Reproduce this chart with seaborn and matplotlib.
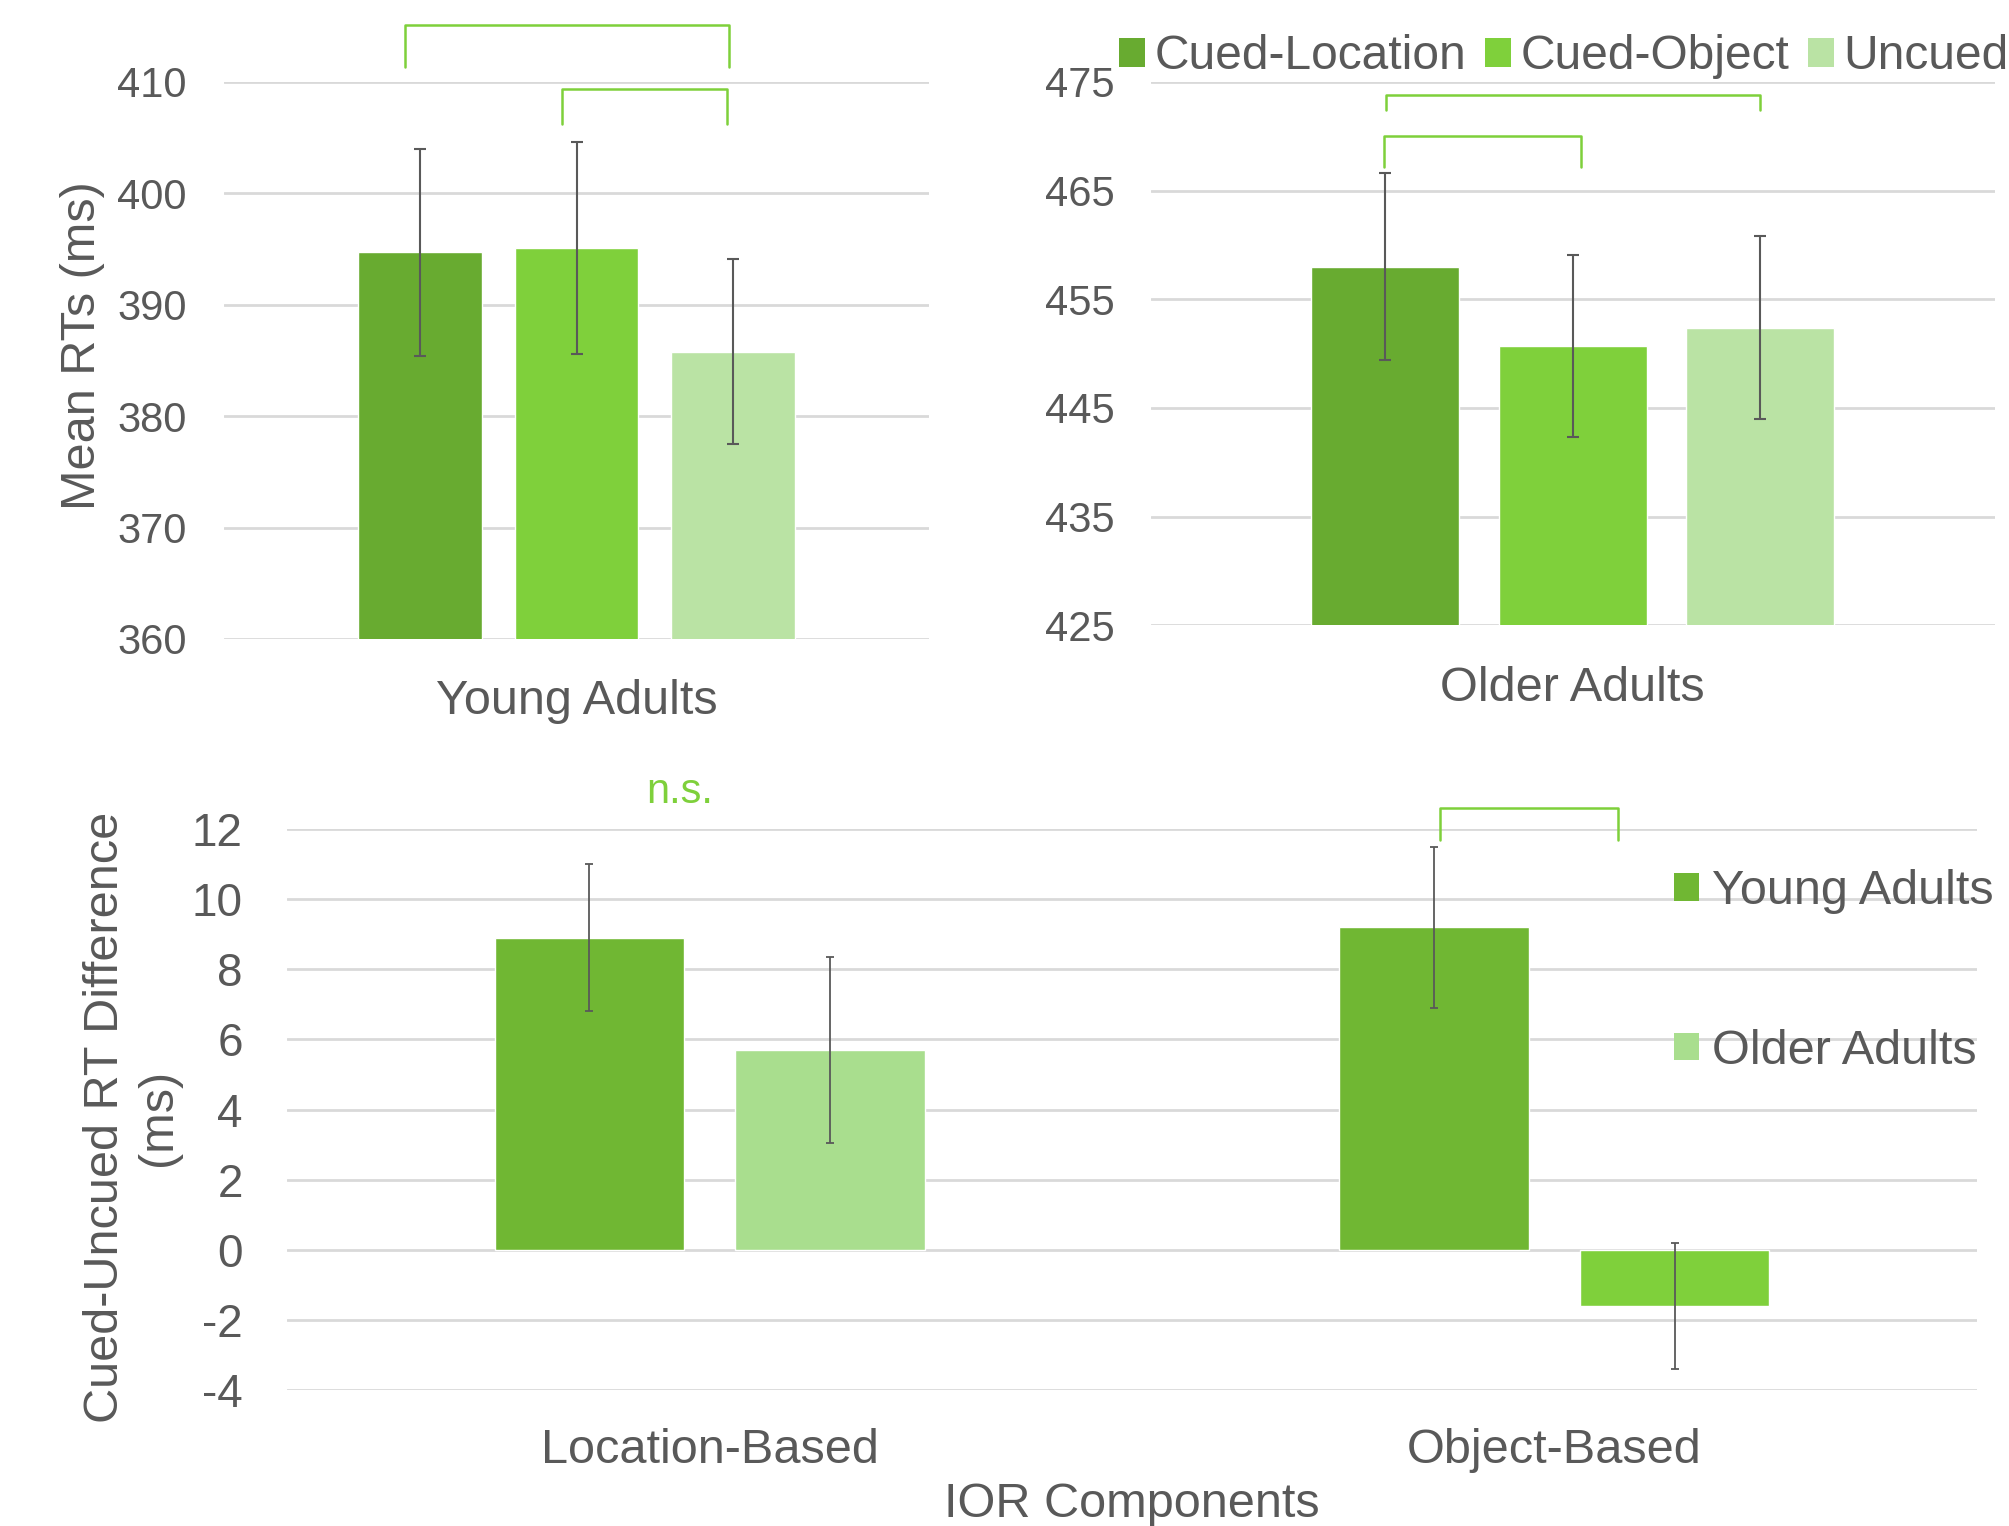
import numpy as np
import pandas as pd
import matplotlib
matplotlib.use("Agg")
import matplotlib.pyplot as plt
import seaborn as sns
from matplotlib.patches import Patch

# ---------------- data ----------------
cond_labels = ["Cued-Location", "Cued-Object", "Uncued"]
young_means = [394.7, 395.1, 385.8]
young_err = [9.3, 9.5, 8.3]
older_means = [458.0, 450.7, 452.4]
older_err = [8.6, 8.4, 8.4]

ior_components = ["Location-Based", "Object-Based"]
age_groups = ["Young Adults", "Older Adults"]
ior_young = [8.9, 9.2]
ior_young_err = [2.1, 2.3]
ior_older = [5.7, -1.6]
ior_older_err = [2.65, 1.8]

top_colors = ["#68AB30", "#7FD03B", "#BAE3A4"]
bottom_colors = ["#70B733", "#A9DE8E"]
bright_green = "#7FD03B"
text_gray = "#595959"
grid_gray = "#D9D9D9"
bracket_green = "#7ED03B"

sns.set_theme(style="white")
plt.rcParams['font.family'] = ['Liberation Sans', 'DejaVu Sans']
plt.rcParams['text.color'] = text_gray
plt.rcParams['axes.labelcolor'] = text_gray
plt.rcParams['xtick.color'] = text_gray
plt.rcParams['ytick.color'] = text_gray
plt.rcParams['axes.unicode_minus'] = False

fig = plt.figure(figsize=(20.09, 15.26), dpi=100)
ax1 = fig.add_axes([0.1116, 0.5813, 0.3508, 0.3650])
ax2 = fig.add_axes([0.5727, 0.5902, 0.4203, 0.3561])
ax3 = fig.add_axes([0.1429, 0.0891, 0.8411, 0.3676])

BIG = 35


def style_axis(ax, ticks, lim, tick_size, pad, xpad):
    ax.set_ylim(*lim)
    ax.set_yticks(ticks)
    ax.yaxis.grid(True, color=grid_gray, linewidth=2.0)
    ax.xaxis.grid(False)
    ax.set_axisbelow(True)
    for s in ax.spines.values():
        s.set_visible(False)
    ax.tick_params(axis='both', length=0)
    ax.tick_params(axis='y', labelsize=tick_size, pad=pad)
    ax.tick_params(axis='x', labelsize=BIG, pad=xpad)


def add_errorbars(ax, means_list, errs_list, capsize, lw):
    for cont, means, errs in zip(ax.containers, means_list, errs_list):
        for bar, m, e in zip(cont, means, errs):
            x = bar.get_x() + bar.get_width() / 2
            ax.errorbar(x, m, yerr=e, fmt='none', ecolor=text_gray,
                        elinewidth=lw, capsize=capsize, capthick=lw, zorder=5)


def bracket(ax, x0, x1, y_top, y_bot):
    ax.plot([x0, x0, x1, x1], [y_bot, y_top, y_top, y_bot], color=bracket_green,
            linewidth=1.8, solid_joinstyle='round', clip_on=False, zorder=6)


# ---------- top-left: Young Adults ----------
df_y = pd.DataFrame({"group": ["Young Adults"] * 3, "cond": cond_labels, "rt": young_means})
sns.barplot(data=df_y, x="group", y="rt", hue="cond", hue_order=cond_labels,
            palette=top_colors, width=0.666, gap=0.21, saturation=1,
            errorbar=None, legend=False, ax=ax1)
ax1.set_xlim(-0.5, 0.5)
style_axis(ax1, np.arange(360, 411, 10), (360, 410), 30, 27, 29)
ax1.set_xlabel("")
ax1.set_ylabel("Mean RTs (ms)", fontsize=BIG, labelpad=9)
ax1.yaxis.label.set_y(0.526)
add_errorbars(ax1, [[m] for m in young_means], [[e] for e in young_err], 4, 1.5)
bracket(ax1, -0.244, 0.216, 415.1, 411.3)
bracket(ax1, -0.020, 0.213, 409.4, 406.2)

# ---------- top-right: Older Adults ----------
df_o = pd.DataFrame({"group": ["Older Adults"] * 3, "cond": cond_labels, "rt": older_means})
sns.barplot(data=df_o, x="group", y="rt", hue="cond", hue_order=cond_labels,
            palette=top_colors, width=0.666, gap=0.21, saturation=1,
            errorbar=None, legend=False, ax=ax2)
ax2.set_xlim(-0.5, 0.5)
style_axis(ax2, np.arange(425, 476, 10), (425, 475), 30, 26, 29)
ax2.set_xlabel("")
ax2.set_ylabel("")
add_errorbars(ax2, [[m] for m in older_means], [[e] for e in older_err], 4, 1.5)
bracket(ax2, -0.221, 0.222, 473.8, 472.4)
bracket(ax2, -0.224, 0.010, 470.05, 467.2)

handles = [Patch(facecolor=c, edgecolor='none', label=l) for c, l in zip(top_colors, cond_labels)]
fig.legend(handles=handles, loc='center left', bbox_to_anchor=(0.5568, 0.9627),
           ncol=3, frameon=False, fontsize=34.5, handlelength=0.55, handleheight=0.55,
           handletextpad=0.2, columnspacing=0.38, borderpad=0, borderaxespad=0)

# ---------- bottom: IOR components ----------
df_b = pd.DataFrame({
    "comp": ior_components * 2,
    "age": [age_groups[0]] * 2 + [age_groups[1]] * 2,
    "diff": ior_young + ior_older,
})
sns.barplot(data=df_b, x="comp", y="diff", hue="age", hue_order=age_groups,
            order=ior_components, palette=bottom_colors, width=0.57, gap=0.214,
            saturation=1, errorbar=None, legend=False, ax=ax3)
ax3.set_xlim(-0.5, 1.5)
style_axis(ax3, np.arange(-4, 13, 2), (-4, 12), 33, 32, 27)
# the older-adult object-based bar is drawn in the brighter green
ax3.containers[1][1].set_facecolor(bright_green)
add_errorbars(ax3, [ior_young, ior_older], [ior_young_err, ior_older_err], 3, 1.3)
ax3.set_xlabel("IOR Components", fontsize=BIG, labelpad=7)
ax3.set_ylabel("Cued-Uncued RT Difference\n(ms)", fontsize=BIG, labelpad=8, linespacing=1.22)
ax3.yaxis.label.set_y(0.486)
bracket(ax3, 0.865, 1.075, 12.6, 11.7)
ax3.text(-0.035, 13.05, "n.s.", color=bracket_green, fontsize=30, ha='center', va='center')

bh = [Patch(facecolor=c, edgecolor='none', label=l) for c, l in zip(bottom_colors, age_groups)]
ax3.legend(handles=bh, loc='upper left', bbox_to_anchor=(0.821, 0.928), frameon=False,
           fontsize=BIG, handlelength=0.5, handleheight=0.5, handletextpad=0.27,
           labelspacing=2.35, borderpad=0, borderaxespad=0)

fig.savefig("out.png", dpi=100)
